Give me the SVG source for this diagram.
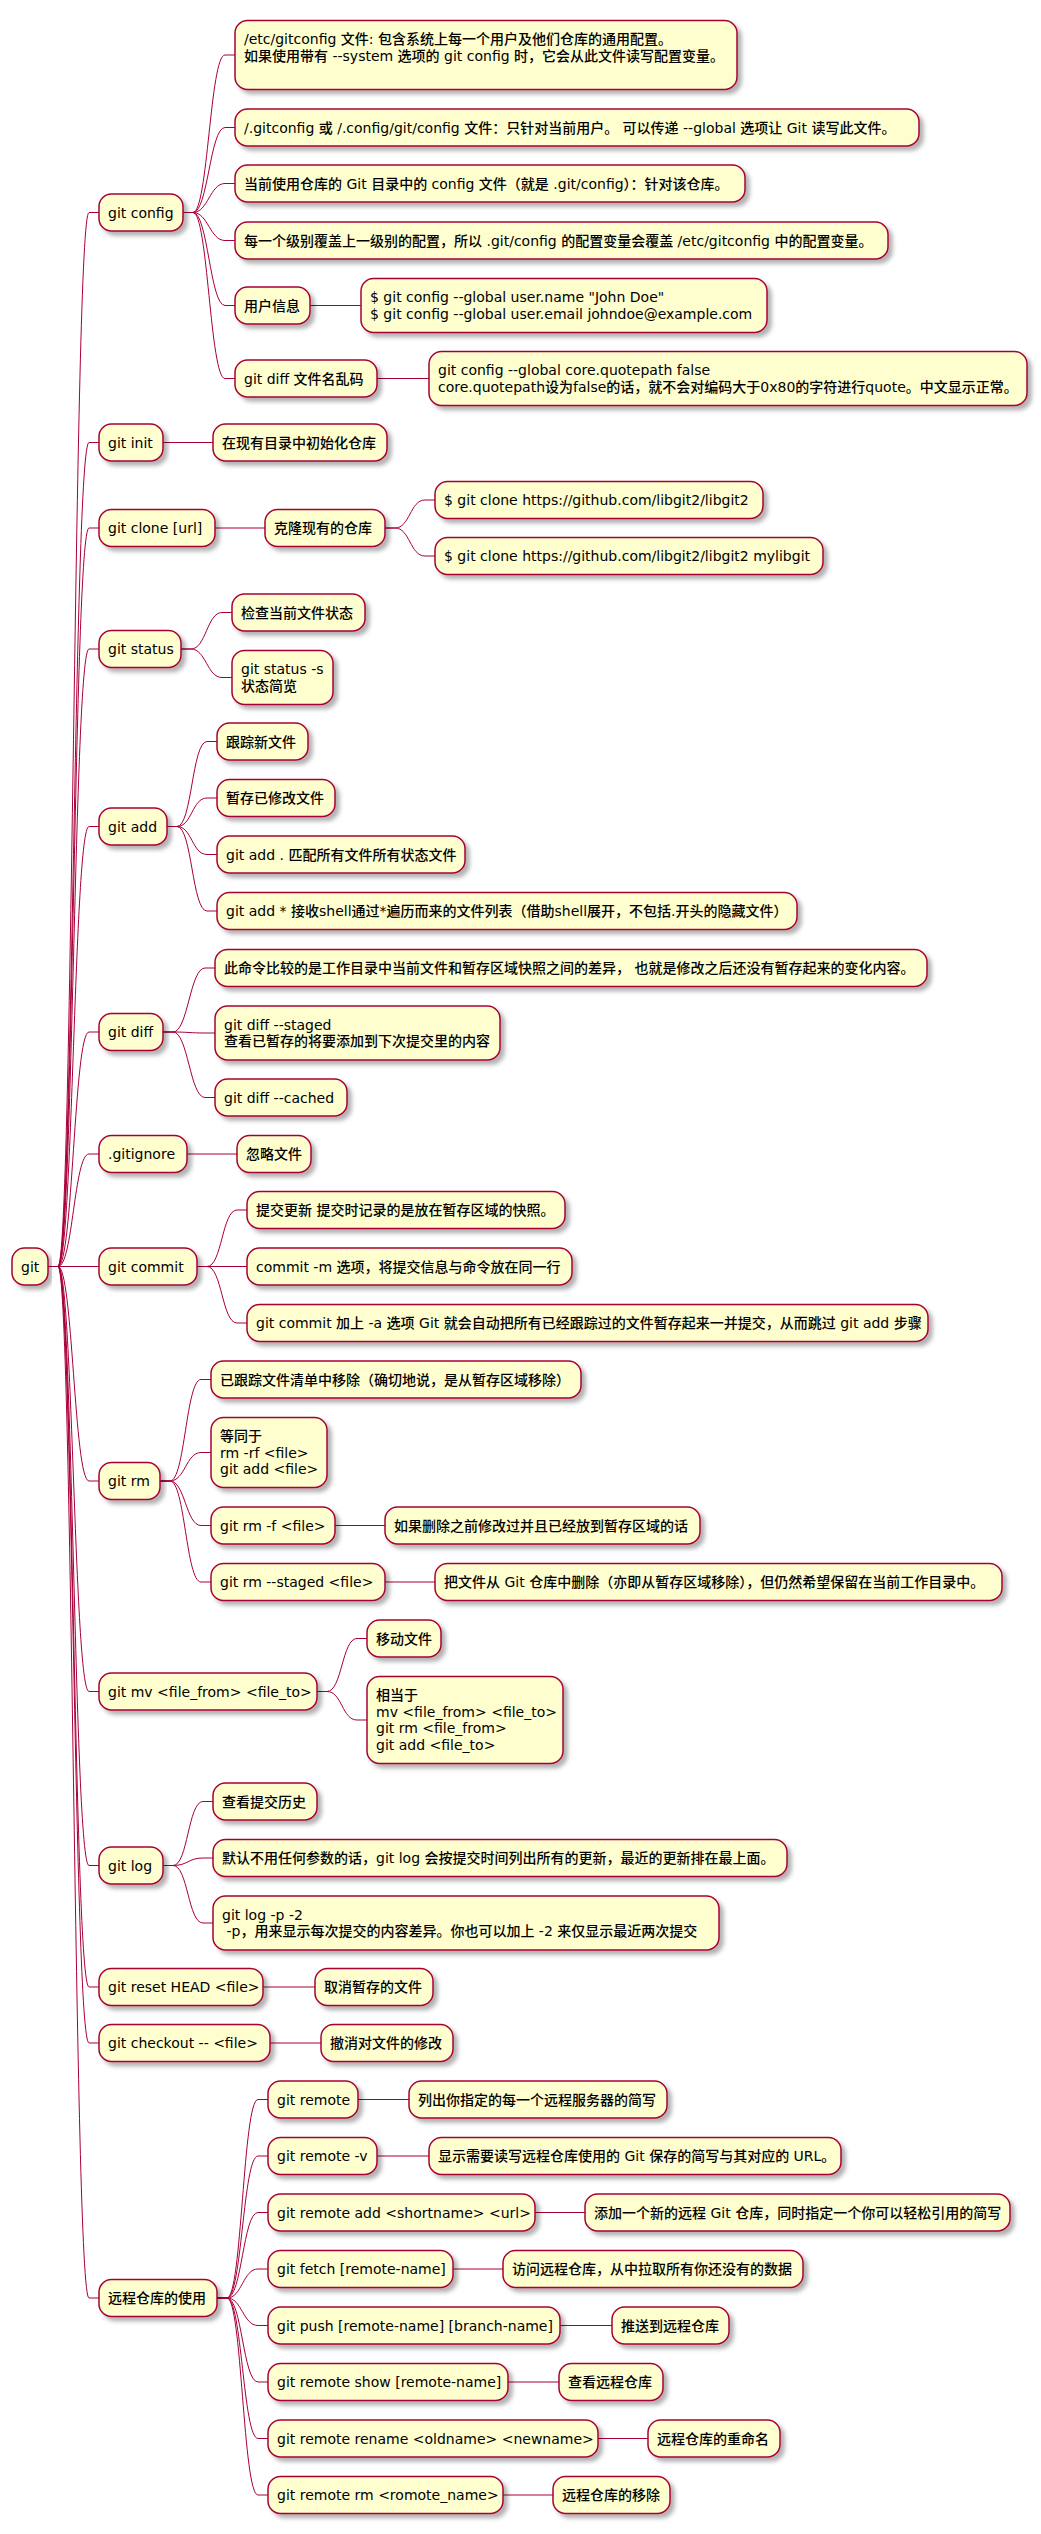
<svg xmlns="http://www.w3.org/2000/svg" width="1041" height="2534" viewBox="0 0 1041 2534">
<style>
.n{fill:#FEFECE;stroke:#A80036;stroke-width:1.5;filter:url(#sh)}
.t{font-family:"DejaVu Sans","Noto Sans CJK SC",sans-serif;font-size:14px;font-weight:500;fill:#000}
.c{fill:none;stroke:#A80036;stroke-width:1}
</style>
<defs>
<filter id="sh" x="-0.1" y="-0.3" width="1.2" height="1.8">
<feDropShadow dx="4" dy="4" stdDeviation="2" flood-color="#000" flood-opacity="0.3"/>
</filter>
</defs>
<rect width="1041" height="2534" fill="#fff"/>
<g id="connectors">
<path class="c" d="M48 1266.5L58 1266.5C73 1266.5 74 212.5 89 212.5L99 212.5"/>
<path class="c" d="M48 1266.5L58 1266.5C73 1266.5 74 442.5 89 442.5L99 442.5"/>
<path class="c" d="M48 1266.5L58 1266.5C73 1266.5 74 528 89 528L99 528"/>
<path class="c" d="M48 1266.5L58 1266.5C73 1266.5 74 649 89 649L99 649"/>
<path class="c" d="M48 1266.5L58 1266.5C73 1266.5 74 826.5 89 826.5L99 826.5"/>
<path class="c" d="M48 1266.5L58 1266.5C73 1266.5 74 1032 89 1032L99 1032"/>
<path class="c" d="M48 1266.5L58 1266.5C73 1266.5 74 1154 89 1154L99 1154"/>
<path class="c" d="M48 1266.5L99 1266.5"/>
<path class="c" d="M48 1266.5L58 1266.5C73 1266.5 74 1481 89 1481L99 1481"/>
<path class="c" d="M48 1266.5L58 1266.5C73 1266.5 74 1691.5 89 1691.5L99 1691.5"/>
<path class="c" d="M48 1266.5L58 1266.5C73 1266.5 74 1865.5 89 1865.5L99 1865.5"/>
<path class="c" d="M48 1266.5L58 1266.5C73 1266.5 74 1987 89 1987L99 1987"/>
<path class="c" d="M48 1266.5L58 1266.5C73 1266.5 74 2043 89 2043L99 2043"/>
<path class="c" d="M48 1266.5L58 1266.5C73 1266.5 74 2298 89 2298L99 2298"/>

<path class="c" d="M183 212.5L193 212.5C208 212.5 210 55 225 55L235 55"/>
<path class="c" d="M183 212.5L193 212.5C208 212.5 210 127.5 225 127.5L235 127.5"/>
<path class="c" d="M183 212.5L193 212.5C208 212.5 210 183.5 225 183.5L235 183.5"/>
<path class="c" d="M183 212.5L193 212.5C208 212.5 210 240.5 225 240.5L235 240.5"/>
<path class="c" d="M183 212.5L193 212.5C208 212.5 210 305.5 225 305.5L235 305.5"/>
<path class="c" d="M183 212.5L193 212.5C208 212.5 210 378.5 225 378.5L235 378.5"/>
<path class="c" d="M310 305.5L361 305.5"/>
<path class="c" d="M377 378.5L429 378.5"/>

<path class="c" d="M163 442.5L213 442.5"/>
<path class="c" d="M215 528L265 528"/>
<path class="c" d="M385 528L395 528C410 528 410 500 425 500L435 500"/>
<path class="c" d="M385 528L395 528C410 528 410 556 425 556L435 556"/>

<path class="c" d="M181 649L191 649C206 649 207 612.5 222 612.5L232 612.5"/>
<path class="c" d="M181 649L191 649C206 649 207 677.5 222 677.5L232 677.5"/>

<path class="c" d="M167 826.5L177 826.5C192 826.5 192 741.5 207 741.5L217 741.5"/>
<path class="c" d="M167 826.5L177 826.5C192 826.5 192 798 207 798L217 798"/>
<path class="c" d="M167 826.5L177 826.5C192 826.5 192 854.5 207 854.5L217 854.5"/>
<path class="c" d="M167 826.5L177 826.5C192 826.5 192 911 207 911L217 911"/>

<path class="c" d="M163 1032L173 1032C188 1032 190 968 205 968L215 968"/>
<path class="c" d="M163 1032L173 1032C188 1032 190 1033 205 1033L215 1033"/>
<path class="c" d="M163 1032L173 1032C188 1032 190 1097.5 205 1097.5L215 1097.5"/>

<path class="c" d="M187 1154L237 1154"/>

<path class="c" d="M197 1266.5L207 1266.5C222 1266.5 222 1210 237 1210L247 1210"/>
<path class="c" d="M197 1266.5L247 1266.5"/>
<path class="c" d="M197 1266.5L207 1266.5C222 1266.5 222 1323 237 1323L247 1323"/>

<path class="c" d="M160 1481L170 1481C185 1481 186 1379.5 201 1379.5L211 1379.5"/>
<path class="c" d="M160 1481L170 1481C185 1481 186 1452.5 201 1452.5L211 1452.5"/>
<path class="c" d="M160 1481L170 1481C185 1481 186 1525.5 201 1525.5L211 1525.5"/>
<path class="c" d="M160 1481L170 1481C185 1481 186 1582 201 1582L211 1582"/>
<path class="c" d="M335 1525.5L385 1525.5"/>
<path class="c" d="M385 1582L435 1582"/>

<path class="c" d="M317 1691.5L327 1691.5C342 1691.5 342 1638.5 357 1638.5L367 1638.5"/>
<path class="c" d="M317 1691.5L327 1691.5C342 1691.5 342 1720 357 1720L367 1720"/>

<path class="c" d="M163 1865.5L173 1865.5C188 1865.5 188 1801.5 203 1801.5L213 1801.5"/>
<path class="c" d="M163 1865.5L173 1865.5C188 1865.5 188 1858 203 1858L213 1858"/>
<path class="c" d="M163 1865.5L173 1865.5C188 1865.5 188 1923 203 1923L213 1923"/>

<path class="c" d="M263 1987L315 1987"/>
<path class="c" d="M270 2043L321 2043"/>

<path class="c" d="M217 2298L227 2298C242 2298 243 2099.5 258 2099.5L268 2099.5"/>
<path class="c" d="M217 2298L227 2298C242 2298 243 2156 258 2156L268 2156"/>
<path class="c" d="M217 2298L227 2298C242 2298 243 2212.5 258 2212.5L268 2212.5"/>
<path class="c" d="M217 2298L227 2298C242 2298 243 2269 258 2269L268 2269"/>
<path class="c" d="M217 2298L227 2298C242 2298 243 2325.5 258 2325.5L268 2325.5"/>
<path class="c" d="M217 2298L227 2298C242 2298 243 2382 258 2382L268 2382"/>
<path class="c" d="M217 2298L227 2298C242 2298 243 2438.5 258 2438.5L268 2438.5"/>
<path class="c" d="M217 2298L227 2298C242 2298 243 2495 258 2495L268 2495"/>
<path class="c" d="M358 2099.5L409 2099.5"/>
<path class="c" d="M377 2156L429 2156"/>
<path class="c" d="M535 2212.5L585 2212.5"/>
<path class="c" d="M453 2269L503 2269"/>
<path class="c" d="M560 2325.5L612 2325.5"/>
<path class="c" d="M508 2382L559 2382"/>
<path class="c" d="M598 2438.5L648 2438.5"/>
<path class="c" d="M503 2495L553 2495"/>
</g>

<g id="root"><rect class="n" x="12" y="1248" width="36" height="37" rx="12.5"/><text class="t" x="21" y="1271.5">git</text></g>

<g id="git-config"><rect class="n" x="99" y="194" width="84" height="37" rx="12.5"/><text class="t" x="108" y="217.5">git config</text></g>
<g id="cfg-etc"><rect class="n" x="235" y="20.5" width="502" height="69" rx="12.5"/><text class="t" x="244" y="44"><tspan x="244">/etc/gitconfig 文件: 包含系统上每一个用户及他们仓库的通用配置。</tspan><tspan x="244" dy="16.7">如果使用带有 --system 选项的 git config 时，它会从此文件读写配置变量。</tspan></text></g>
<g id="cfg-home"><rect class="n" x="235" y="109" width="684" height="37" rx="12.5"/><text class="t" x="244" y="132.5">/.gitconfig 或 /.config/git/config 文件：只针对当前用户。 可以传递 --global 选项让 Git 读写此文件。</text></g>
<g id="cfg-repo"><rect class="n" x="235" y="165" width="510" height="37" rx="12.5"/><text class="t" x="244" y="188.5">当前使用仓库的 Git 目录中的 config 文件（就是 .git/config）：针对该仓库。</text></g>
<g id="cfg-level"><rect class="n" x="235" y="222" width="653" height="37" rx="12.5"/><text class="t" x="244" y="245.5">每一个级别覆盖上一级别的配置，所以 .git/config 的配置变量会覆盖 /etc/gitconfig 中的配置变量。</text></g>
<g id="cfg-user"><rect class="n" x="235" y="287" width="75" height="37" rx="12.5"/><text class="t" x="244" y="310.5">用户信息</text></g>
<g id="cfg-user-cmd"><rect class="n" x="361" y="278.5" width="406" height="54" rx="12.5"/><text class="t"><tspan x="370" y="302">$ git config --global user.name "John Doe"</tspan><tspan x="370" dy="16.7">$ git config --global user.email johndoe@example.com</tspan></text></g>
<g id="cfg-diff"><rect class="n" x="235" y="360" width="142" height="37" rx="12.5"/><text class="t" x="244" y="383.5">git diff 文件名乱码</text></g>
<g id="cfg-diff-cmd"><rect class="n" x="429" y="351.5" width="598" height="54" rx="12.5"/><text class="t"><tspan x="438" y="375">git config --global core.quotepath false</tspan><tspan x="438" dy="16.7">core.quotepath设为false的话，就不会对编码大于0x80的字符进行quote。中文显示正常。</tspan></text></g>

<g id="git-init"><rect class="n" x="99" y="424" width="64" height="37" rx="12.5"/><text class="t" x="108" y="447.5">git init</text></g>
<g id="init-desc"><rect class="n" x="213" y="424" width="174" height="37" rx="12.5"/><text class="t" x="222" y="447.5">在现有目录中初始化仓库</text></g>

<g id="git-clone"><rect class="n" x="99" y="509.5" width="116" height="37" rx="12.5"/><text class="t" x="108" y="533">git clone [url]</text></g>
<g id="clone-desc"><rect class="n" x="265" y="509.5" width="120" height="37" rx="12.5"/><text class="t" x="274" y="533">克隆现有的仓库</text></g>
<g id="clone-1"><rect class="n" x="435" y="481.5" width="328" height="37" rx="12.5"/><text class="t" x="444" y="505">$ git clone https://github.com/libgit2/libgit2</text></g>
<g id="clone-2"><rect class="n" x="435" y="537.5" width="388" height="37" rx="12.5"/><text class="t" x="444" y="561">$ git clone https://github.com/libgit2/libgit2 mylibgit</text></g>

<g id="git-status"><rect class="n" x="99" y="630.5" width="82" height="37" rx="12.5"/><text class="t" x="108" y="654">git status</text></g>
<g id="status-1"><rect class="n" x="232" y="594" width="133" height="37" rx="12.5"/><text class="t" x="241" y="617.5">检查当前文件状态</text></g>
<g id="status-2"><rect class="n" x="232" y="650.5" width="101" height="54" rx="12.5"/><text class="t"><tspan x="241" y="674">git status -s</tspan><tspan x="241" dy="16.7">状态简览</tspan></text></g>

<g id="git-add"><rect class="n" x="99" y="808" width="68" height="37" rx="12.5"/><text class="t" x="108" y="831.5">git add</text></g>
<g id="add-1"><rect class="n" x="217" y="723" width="91" height="37" rx="12.5"/><text class="t" x="226" y="746.5">跟踪新文件</text></g>
<g id="add-2"><rect class="n" x="217" y="779.5" width="118" height="37" rx="12.5"/><text class="t" x="226" y="803">暂存已修改文件</text></g>
<g id="add-3"><rect class="n" x="217" y="836" width="248" height="37" rx="12.5"/><text class="t" x="226" y="859.5">git add . 匹配所有文件所有状态文件</text></g>
<g id="add-4"><rect class="n" x="217" y="892.5" width="580" height="37" rx="12.5"/><text class="t" x="226" y="916">git add * 接收shell通过*遍历而来的文件列表（借助shell展开，不包括.开头的隐藏文件）</text></g>

<g id="git-diff"><rect class="n" x="99" y="1013.5" width="64" height="37" rx="12.5"/><text class="t" x="108" y="1037">git diff</text></g>
<g id="diff-1"><rect class="n" x="215" y="949.5" width="712" height="37" rx="12.5"/><text class="t" x="224" y="973">此命令比较的是工作目录中当前文件和暂存区域快照之间的差异， 也就是修改之后还没有暂存起来的变化内容。</text></g>
<g id="diff-2"><rect class="n" x="215" y="1006" width="285" height="54" rx="12.5"/><text class="t"><tspan x="224" y="1029.5">git diff --staged</tspan><tspan x="224" dy="16.7">查看已暂存的将要添加到下次提交里的内容</tspan></text></g>
<g id="diff-3"><rect class="n" x="215" y="1079" width="132" height="37" rx="12.5"/><text class="t" x="224" y="1102.5">git diff --cached</text></g>

<g id="gitignore"><rect class="n" x="99" y="1135.5" width="88" height="37" rx="12.5"/><text class="t" x="108" y="1159">.gitignore</text></g>
<g id="ignore-desc"><rect class="n" x="237" y="1135.5" width="74" height="37" rx="12.5"/><text class="t" x="246" y="1159">忽略文件</text></g>

<g id="git-commit"><rect class="n" x="99" y="1248" width="98" height="37" rx="12.5"/><text class="t" x="108" y="1271.5">git commit</text></g>
<g id="commit-1"><rect class="n" x="247" y="1191.5" width="318" height="37" rx="12.5"/><text class="t" x="256" y="1215">提交更新 提交时记录的是放在暂存区域的快照。</text></g>
<g id="commit-2"><rect class="n" x="247" y="1248" width="325" height="37" rx="12.5"/><text class="t" x="256" y="1271.5">commit -m 选项，将提交信息与命令放在同一行</text></g>
<g id="commit-3"><rect class="n" x="247" y="1304.5" width="681" height="37" rx="12.5"/><text class="t" x="256" y="1328">git commit 加上 -a 选项 Git 就会自动把所有已经跟踪过的文件暂存起来一并提交，从而跳过 git add 步骤</text></g>

<g id="git-rm"><rect class="n" x="99" y="1462.5" width="61" height="37" rx="12.5"/><text class="t" x="108" y="1486">git rm</text></g>
<g id="rm-1"><rect class="n" x="211" y="1361" width="370" height="37" rx="12.5"/><text class="t" x="220" y="1384.5">已跟踪文件清单中移除（确切地说，是从暂存区域移除）</text></g>
<g id="rm-2"><rect class="n" x="211" y="1417.5" width="116" height="70" rx="12.5"/><text class="t"><tspan x="220" y="1441">等同于</tspan><tspan x="220" dy="16.7">rm -rf &lt;file&gt;</tspan><tspan x="220" dy="16.7">git add &lt;file&gt;</tspan></text></g>
<g id="rm-f"><rect class="n" x="211" y="1507" width="124" height="37" rx="12.5"/><text class="t" x="220" y="1530.5">git rm -f &lt;file&gt;</text></g>
<g id="rm-f-desc"><rect class="n" x="385" y="1507" width="315" height="37" rx="12.5"/><text class="t" x="394" y="1530.5">如果删除之前修改过并且已经放到暂存区域的话</text></g>
<g id="rm-staged"><rect class="n" x="211" y="1563.5" width="174" height="37" rx="12.5"/><text class="t" x="220" y="1587">git rm --staged &lt;file&gt;</text></g>
<g id="rm-staged-desc"><rect class="n" x="435" y="1563.5" width="567" height="37" rx="12.5"/><text class="t" x="444" y="1587">把文件从 Git 仓库中删除（亦即从暂存区域移除），但仍然希望保留在当前工作目录中。</text></g>

<g id="git-mv"><rect class="n" x="99" y="1673" width="218" height="37" rx="12.5"/><text class="t" x="108" y="1696.5">git mv &lt;file_from&gt; &lt;file_to&gt;</text></g>
<g id="mv-1"><rect class="n" x="367" y="1620" width="74" height="37" rx="12.5"/><text class="t" x="376" y="1643.5">移动文件</text></g>
<g id="mv-2"><rect class="n" x="367" y="1676.5" width="196" height="87" rx="12.5"/><text class="t"><tspan x="376" y="1700">相当于</tspan><tspan x="376" dy="16.7">mv &lt;file_from&gt; &lt;file_to&gt;</tspan><tspan x="376" dy="16.7">git rm &lt;file_from&gt;</tspan><tspan x="376" dy="16.7">git add &lt;file_to&gt;</tspan></text></g>

<g id="git-log"><rect class="n" x="99" y="1847" width="64" height="37" rx="12.5"/><text class="t" x="108" y="1870.5">git log</text></g>
<g id="log-1"><rect class="n" x="213" y="1783" width="104" height="37" rx="12.5"/><text class="t" x="222" y="1806.5">查看提交历史</text></g>
<g id="log-2"><rect class="n" x="213" y="1839.5" width="574" height="37" rx="12.5"/><text class="t" x="222" y="1863">默认不用任何参数的话，git log 会按提交时间列出所有的更新，最近的更新排在最上面。</text></g>
<g id="log-3"><rect class="n" x="213" y="1896" width="506" height="54" rx="12.5"/><text class="t" xml:space="preserve"><tspan x="222" y="1919.5">git log -p -2</tspan><tspan x="222" dy="16.7"> -p，用来显示每次提交的内容差异。你也可以加上 -2 来仅显示最近两次提交</tspan></text></g>

<g id="git-reset"><rect class="n" x="99" y="1968.5" width="164" height="37" rx="12.5"/><text class="t" x="108" y="1992">git reset HEAD &lt;file&gt;</text></g>
<g id="reset-desc"><rect class="n" x="315" y="1968.5" width="118" height="37" rx="12.5"/><text class="t" x="324" y="1992">取消暂存的文件</text></g>

<g id="git-checkout"><rect class="n" x="99" y="2024.5" width="171" height="37" rx="12.5"/><text class="t" x="108" y="2048">git checkout -- &lt;file&gt;</text></g>
<g id="checkout-desc"><rect class="n" x="321" y="2024.5" width="132" height="37" rx="12.5"/><text class="t" x="330" y="2048">撤消对文件的修改</text></g>

<g id="remote-use"><rect class="n" x="99" y="2279.5" width="118" height="37" rx="12.5"/><text class="t" x="108" y="2303">远程仓库的使用</text></g>
<g id="remote"><rect class="n" x="268" y="2081" width="90" height="37" rx="12.5"/><text class="t" x="277" y="2104.5">git remote</text></g>
<g id="remote-desc"><rect class="n" x="409" y="2081" width="258" height="37" rx="12.5"/><text class="t" x="418" y="2104.5">列出你指定的每一个远程服务器的简写</text></g>
<g id="remote-v"><rect class="n" x="268" y="2137.5" width="109" height="37" rx="12.5"/><text class="t" x="277" y="2161">git remote -v</text></g>
<g id="remote-v-desc"><rect class="n" x="429" y="2137.5" width="412" height="37" rx="12.5"/><text class="t" x="438" y="2161">显示需要读写远程仓库使用的 Git 保存的简写与其对应的 URL。</text></g>
<g id="remote-add"><rect class="n" x="268" y="2194" width="267" height="37" rx="12.5"/><text class="t" x="277" y="2217.5">git remote add &lt;shortname&gt; &lt;url&gt;</text></g>
<g id="remote-add-desc"><rect class="n" x="585" y="2194" width="425" height="37" rx="12.5"/><text class="t" x="594" y="2217.5">添加一个新的远程 Git 仓库，同时指定一个你可以轻松引用的简写</text></g>
<g id="fetch"><rect class="n" x="268" y="2250.5" width="185" height="37" rx="12.5"/><text class="t" x="277" y="2274">git fetch [remote-name]</text></g>
<g id="fetch-desc"><rect class="n" x="503" y="2250.5" width="300" height="37" rx="12.5"/><text class="t" x="512" y="2274">访问远程仓库，从中拉取所有你还没有的数据</text></g>
<g id="push"><rect class="n" x="268" y="2307" width="292" height="37" rx="12.5"/><text class="t" x="277" y="2330.5">git push [remote-name] [branch-name]</text></g>
<g id="push-desc"><rect class="n" x="612" y="2307" width="117" height="37" rx="12.5"/><text class="t" x="621" y="2330.5">推送到远程仓库</text></g>
<g id="remote-show"><rect class="n" x="268" y="2363.5" width="240" height="37" rx="12.5"/><text class="t" x="277" y="2387">git remote show [remote-name]</text></g>
<g id="remote-show-desc"><rect class="n" x="559" y="2363.5" width="104" height="37" rx="12.5"/><text class="t" x="568" y="2387">查看远程仓库</text></g>
<g id="remote-rename"><rect class="n" x="268" y="2420" width="330" height="37" rx="12.5"/><text class="t" x="277" y="2443.5">git remote rename &lt;oldname&gt; &lt;newname&gt;</text></g>
<g id="remote-rename-desc"><rect class="n" x="648" y="2420" width="132" height="37" rx="12.5"/><text class="t" x="657" y="2443.5">远程仓库的重命名</text></g>
<g id="remote-rm"><rect class="n" x="268" y="2476.5" width="235" height="37" rx="12.5"/><text class="t" x="277" y="2500">git remote rm &lt;romote_name&gt;</text></g>
<g id="remote-rm-desc"><rect class="n" x="553" y="2476.5" width="117" height="37" rx="12.5"/><text class="t" x="562" y="2500">远程仓库的移除</text></g>
</svg>
